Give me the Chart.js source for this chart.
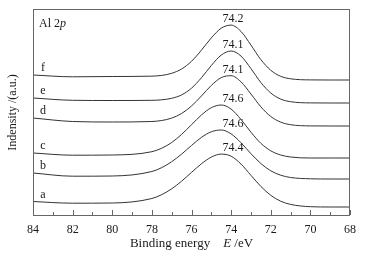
<!DOCTYPE html>
<html>
<head>
<meta charset="utf-8">
<script src="https://cdn.jsdelivr.net/npm/chart.js@4.4.1/dist/chart.umd.min.js"></script>
<style>
html,body{margin:0;padding:0;background:#fff;}
#wrap{width:365px;height:258px;position:relative;}
</style>
</head>
<body>
<div id="wrap"><canvas id="c"></canvas></div>
<script>
// Binding energy sample points (eV)
const energies = [84, 82, 80, 78, 77.5, 77, 76.5, 76, 75.5, 75, 74.5, 74, 73.5, 73, 72.5, 72, 71.5, 71, 70, 69, 68];
// Stacked spectra, intensity in arbitrary units
const seriesA = [14.5, 12.8, 13, 17.5, 21.4, 27.2, 34.8, 43.6, 52.2, 58.9, 61.9, 59.8, 51.9, 40.7, 29.6, 20.7, 14.8, 11.6, 9.3, 9, 9];
const seriesB = [43, 39.8, 40, 44.5, 48.4, 54.3, 61.9, 70.5, 78.6, 84.2, 86, 82.1, 73.2, 62.3, 52.5, 45.2, 40.8, 38.5, 37.2, 37, 37];
const seriesC = [63, 60.8, 61, 64.3, 67.8, 73.5, 81.6, 91.3, 101, 108.3, 111, 106.9, 96.5, 83.8, 72.7, 65.2, 61, 59, 58, 58, 58];
const seriesD = [98, 94.5, 94, 94.5, 95.5, 97.9, 102.5, 110, 120, 130.6, 138.4, 140.3, 134.1, 122, 109.2, 99.5, 93.9, 91.3, 90.1, 90, 90];
const seriesE = [118, 115.7, 115.5, 115.7, 116.2, 117.7, 121.1, 127.8, 138.2, 150.5, 160.9, 165, 159.9, 147.4, 133.5, 123, 116.9, 114.3, 113.1, 113, 113];
const seriesF = [141, 139.2, 139.5, 139.85, 140.6, 142.7, 147, 154.7, 165.8, 178.1, 187.8, 190.9, 184.5, 170.9, 156.4, 145.7, 139.7, 137.2, 136.1, 136, 136];
const curveNames = ['a', 'b', 'c', 'd', 'e', 'f'];
const peakLabels = ['74.4', '74.6', '74.6', '74.1', '74.1', '74.2'];
const allSeries = [seriesA, seriesB, seriesC, seriesD, seriesE, seriesF];
const xTickMin = 68, xTickMax = 84;

const SERIF = '"Liberation Serif", "Times New Roman", serif';
const LINE = '#333';
const TEXT = '#1a1a1a';

const datasets = allSeries.map((s, i) => ({
  label: curveNames[i],
  data: energies.map((e, j) => ({x: e, y: s[j]})),
  borderColor: LINE,
  borderWidth: 1,
  pointRadius: 0,
  fill: false,
  cubicInterpolationMode: 'monotone'
}));

const decor = {
  id: 'decor',
  afterDraw(chart) {
    const ctx = chart.ctx;
    const a = chart.chartArea;
    const xs = chart.scales.x, ys = chart.scales.y;
    ctx.save();
    // frame
    ctx.strokeStyle = '#666';
    ctx.lineWidth = 1;
    ctx.strokeRect(Math.round(a.left) + 0.5, Math.round(a.top) + 0.5, Math.round(a.right - a.left) - 1, Math.round(a.bottom - a.top) - 1);
    // inward ticks
    ctx.beginPath();
    for (let v = xTickMin; v <= xTickMax; v++) {
      const px = Math.round(xs.getPixelForValue(v)) + 0.5;
      const len = v % 2 === 0 ? 5 : 3;
      ctx.moveTo(px, a.bottom - 1);
      ctx.lineTo(px, a.bottom - 1 - len);
    }
    ctx.stroke();
    // texts
    ctx.fillStyle = TEXT;
    ctx.textBaseline = 'alphabetic';
    ctx.font = '12px ' + SERIF;
    // curve letters
    ctx.textAlign = 'center';
    allSeries.forEach((s, i) => {
      const px = xs.getPixelForValue(83.5);
      const py = ys.getPixelForValue(s[0]) - 4;
      ctx.fillText(curveNames[i], px, py);
    });
    // peak labels
    allSeries.forEach((s, i) => {
      const mx = Math.max(...s);
      const px = xs.getPixelForValue(73.9);
      const py = ys.getPixelForValue(mx) - 3;
      ctx.fillText(peakLabels[i], px, py);
    });
    // Al 2p
    ctx.textAlign = 'left';
    const t1 = 'Al 2';
    ctx.font = '12px ' + SERIF;
    const alx = a.left + 6, aly = a.top + 18;
    ctx.fillText(t1, alx, aly);
    const w1 = ctx.measureText(t1).width;
    ctx.font = 'italic 12px ' + SERIF;
    ctx.fillText('p', alx + w1, aly);
    // x title
    const p1 = 'Binding energy', p2 = 'E', p3 = ' /eV';
    ctx.font = '13px ' + SERIF;
    const wa = ctx.measureText(p1).width;
    const wc = ctx.measureText(p3).width;
    ctx.font = 'italic 13px ' + SERIF;
    const wb = ctx.measureText(p2).width;
    const gap = 13;
    const total = wa + gap + wb + wc;
    let sx = (a.left + a.right) / 2 - total / 2;
    const ty = 247;
    ctx.font = '13px ' + SERIF;
    ctx.fillText(p1, sx, ty);
    sx += wa + gap;
    ctx.font = 'italic 13px ' + SERIF;
    ctx.fillText(p2, sx, ty);
    sx += wb;
    ctx.font = '13px ' + SERIF;
    ctx.fillText(p3, sx, ty);
    ctx.restore();
  }
};

new Chart(document.getElementById('c'), {
  type: 'line',
  data: { datasets },
  options: {
    responsive: true,
    maintainAspectRatio: false,
    animation: false,
    devicePixelRatio: 1,
    layout: { padding: { left: 0, right: 15, top: 9, bottom: 0 } },
    plugins: { legend: { display: false }, tooltip: { enabled: false } },
    scales: {
      x: {
        type: 'linear',
        reverse: true,
        min: xTickMin,
        max: xTickMax,
        grid: { display: false, drawTicks: false },
        border: { display: false },
        ticks: {
          stepSize: 1,
          autoSkip: false,
          maxRotation: 0,
          padding: 7,
          color: TEXT,
          font: { family: SERIF, size: 12 },
          callback: v => (v % 2 === 0 ? String(v) : '')
        },
        afterFit: s => { s.height = 42; }
      },
      y: {
        min: 0,
        max: 207,
        grid: { display: false, drawTicks: false },
        border: { display: false },
        ticks: { display: false },
        title: {
          display: true,
          text: 'Indensity /(a.u.)',
          color: TEXT,
          font: { family: SERIF, size: 12 },
          padding: { top: 6, bottom: 0 }
        },
        afterFit: s => { s.width = 33; }
      }
    }
  },
  plugins: [decor]
});
</script>
</body>
</html>
